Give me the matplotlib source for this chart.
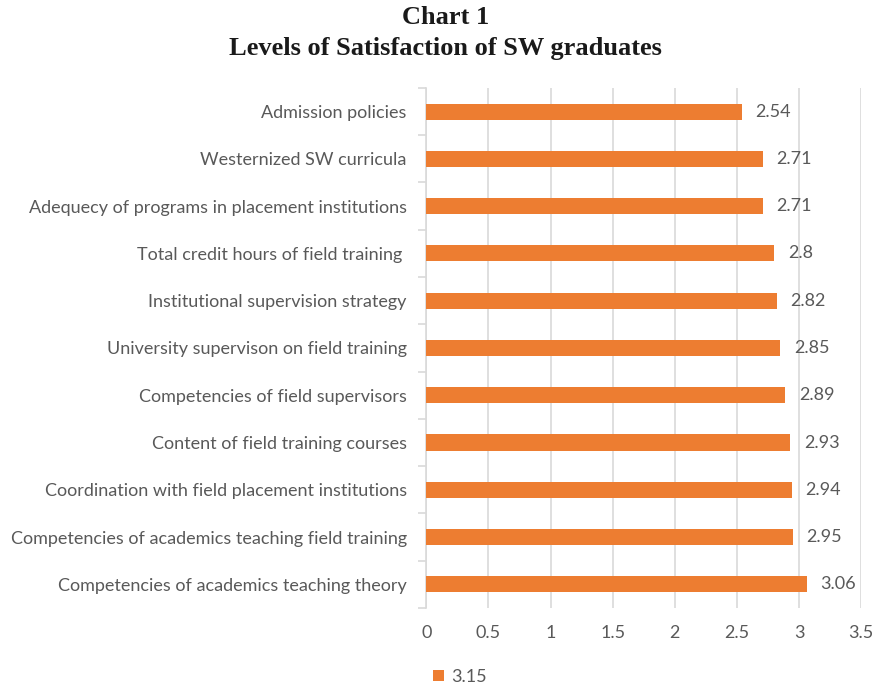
import numpy as np
import matplotlib.pyplot as plt
from matplotlib.ticker import FixedLocator

# Data (top to bottom as shown)
categories = [
    "Admission policies",
    "Westernized SW curricula",
    "Adequecy of programs in placement institutions",
    "Total credit hours of field training ",
    "Institutional supervision strategy",
    "University supervison on field training",
    "Competencies of field supervisors",
    "Content of field training courses",
    "Coordination with field placement institutions",
    "Competencies of academics teaching field training",
    "Competencies of academics teaching theory",
]
values = [2.54, 2.71, 2.71, 2.8, 2.82, 2.85, 2.89, 2.93, 2.94, 2.95, 3.06]
value_labels = ["2.54", "2.71", "2.71", "2.8", "2.82", "2.85", "2.89", "2.93", "2.94", "2.95", "3.06"]
series_name = "3.15"
xticks = [0, 0.5, 1, 1.5, 2, 2.5, 3, 3.5]
xtick_labels = ["0", "0.5", "1", "1.5", "2", "2.5", "3", "3.5"]

bar_color = "#ED7D31"
text_gray = "#595959"
grid_gray = "#D9D9D9"

plt.rcParams['font.family'] = ['Lato', 'DejaVu Sans']

fig = plt.figure(figsize=(8.77, 6.87), dpi=100)
ax = fig.add_axes([0.486, 0.115, 0.496, 0.757])

n = len(categories)
ypos = np.arange(n)[::-1]
bars = ax.barh(ypos, values, height=0.34, color=bar_color, label=series_name, zorder=3)

ax.set_xlim(0, 3.5)
ax.set_ylim(-0.5, n - 0.5)
ax.set_xticks(xticks)
ax.set_xticklabels(xtick_labels, fontsize=13, color=text_gray)
ax.set_yticks(ypos)
ax.set_yticklabels(categories, fontsize=13, color=text_gray)
ax.tick_params(axis='y', which='major', length=0, pad=14)
ax.tick_params(axis='x', length=0, pad=12)
ax.yaxis.set_minor_locator(FixedLocator(np.arange(-0.5, n, 1)))
ax.tick_params(axis='y', which='minor', length=6, color=grid_gray, width=1.2)

ax.grid(axis='x', color=grid_gray, linewidth=1.2, zorder=0)
for s in ['top', 'right', 'bottom']:
    ax.spines[s].set_visible(False)
ax.spines['left'].set_color(grid_gray)
ax.spines['left'].set_linewidth(1.2)

for bar, lab in zip(bars, value_labels):
    ax.text(bar.get_width() + 0.11, bar.get_y() + bar.get_height() / 2, lab,
            va='center', ha='left', fontsize=13, color=text_gray)

fig.text(0.508, 0.975, "Chart 1", ha='center', va='center', fontsize=19,
         fontweight='bold', family='Liberation Serif', color='#1a1a1a')
fig.text(0.508, 0.93, "Levels of Satisfaction of SW graduates", ha='center', va='center',
         fontsize=19, fontweight='bold', family='Liberation Serif', color='#1a1a1a')

leg = fig.legend(loc='center left', bbox_to_anchor=(0.475, 0.015), frameon=False,
                 fontsize=13, handlelength=0.6, handleheight=0.6, handletextpad=0.4)
for t in leg.get_texts():
    t.set_color(text_gray)

fig.savefig("out.png", dpi=100)
